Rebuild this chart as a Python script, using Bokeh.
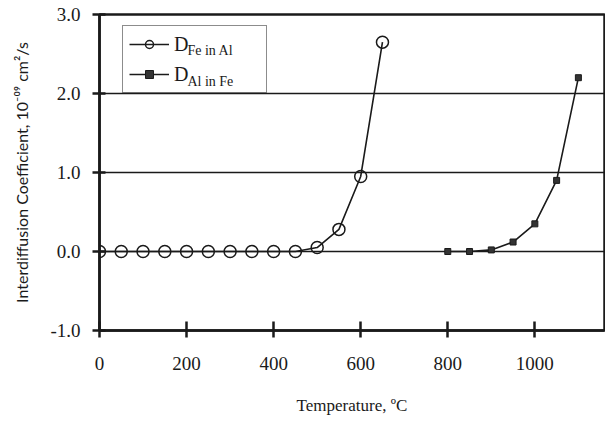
from bokeh.plotting import figure
from bokeh.models import (Range1d, FixedTicker, NumeralTickFormatter, Legend, LegendItem, Label)
from bokeh.embed import file_html
from bokeh.resources import INLINE

# Data
fe_temp = [0, 50, 100, 150, 200, 250, 300, 350, 400, 450, 500, 550, 600, 650]
fe_coef = [0.0, 0.0, 0.0, 0.0, 0.0, 0.0, 0.0, 0.0, 0.0, 0.0, 0.05, 0.28, 0.95, 2.65]
al_temp = [800, 850, 900, 950, 1000, 1050, 1100]
al_coef = [0.0, 0.0, 0.02, 0.12, 0.35, 0.9, 2.2]
x_ticks = [0, 200, 400, 600, 800, 1000]
y_ticks = [-1, 0, 1, 2, 3]

SERIF = "Liberation Serif"
INK = "#1a1a1a"

p = figure(width=605, height=418, output_backend="svg", toolbar_location=None,
           x_range=Range1d(0, 1160), y_range=Range1d(-1, 3),
           min_border_left=99, min_border_top=14, min_border_right=1, min_border_bottom=88)
p.background_fill_color = "white"
p.border_fill_color = "white"
p.outline_line_color = INK
p.outline_line_width = 2.5

p.xgrid.visible = False
p.ygrid.ticker = FixedTicker(ticks=y_ticks)
p.ygrid.grid_line_color = INK
p.ygrid.grid_line_width = 1.4

p.xaxis.ticker = FixedTicker(ticks=x_ticks)
p.yaxis.ticker = FixedTicker(ticks=y_ticks)
p.yaxis.formatter = NumeralTickFormatter(format="0.0")
for ax in (p.xaxis[0], p.yaxis[0]):
    ax.axis_line_color = INK
    ax.axis_line_width = 2.5
    ax.major_tick_line_color = INK
    ax.major_tick_line_width = 2.5
    ax.minor_tick_line_color = None
    ax.major_label_text_font = SERIF
    ax.major_label_text_font_size = "19px"
    ax.major_label_text_color = INK
    ax.axis_label_text_font_style = "normal"
    ax.axis_label_text_color = INK

p.xaxis.major_tick_in = 9
p.xaxis.major_tick_out = 7
p.xaxis.major_label_standoff = 19
p.xaxis.axis_label = "Temperature, \u00baC"
p.xaxis.axis_label_text_font = SERIF
p.xaxis.axis_label_text_font_size = "17px"
p.xaxis.axis_label_standoff = 23

p.yaxis.major_tick_in = 6
p.yaxis.major_tick_out = 7
p.yaxis.major_label_standoff = 12
p.yaxis.axis_label = "Interdiffusion Coefficient, 10\u207b\u2070\u2079 cm\u00b2/s"
p.yaxis.axis_label_text_font = "Lato"
p.yaxis.axis_label_text_font_size = "16px"
p.yaxis.axis_label_standoff = 16

l1 = p.line(fe_temp, fe_coef, line_color=INK, line_width=1.6)
s1 = p.scatter(fe_temp, fe_coef, marker="circle", size=12, fill_alpha=0,
               line_color=INK, line_width=1.5)
l2 = p.line(al_temp, al_coef, line_color=INK, line_width=1.6)
s2 = p.scatter(al_temp, al_coef, marker="square", size=6, fill_color="#333333",
               line_color=INK, line_width=1)

legend = Legend(items=[LegendItem(label="D", renderers=[l1, s1]),
                       LegendItem(label="D", renderers=[l2, s2])],
                location=(23, 237))
legend.label_text_font = SERIF
legend.label_text_font_size = "20px"
legend.label_text_color = INK
legend.glyph_width = 40
legend.glyph_height = 20
legend.label_width = 86
legend.label_height = 24
legend.label_standoff = 5
legend.padding = 6
legend.spacing = 6
legend.border_line_color = INK
legend.border_line_width = 1.5
legend.background_fill_alpha = 0
p.add_layout(legend, "center")

for txt, yy in (("Fe in Al", 2.544), ("Al in Fe", 2.152)):
    p.add_layout(Label(x=202, y=yy, text=txt, text_font=SERIF, text_font_size="14px",
                       text_color=INK, text_baseline="alphabetic", level="overlay"))

open("out.html", "w").write(file_html(p, INLINE))
